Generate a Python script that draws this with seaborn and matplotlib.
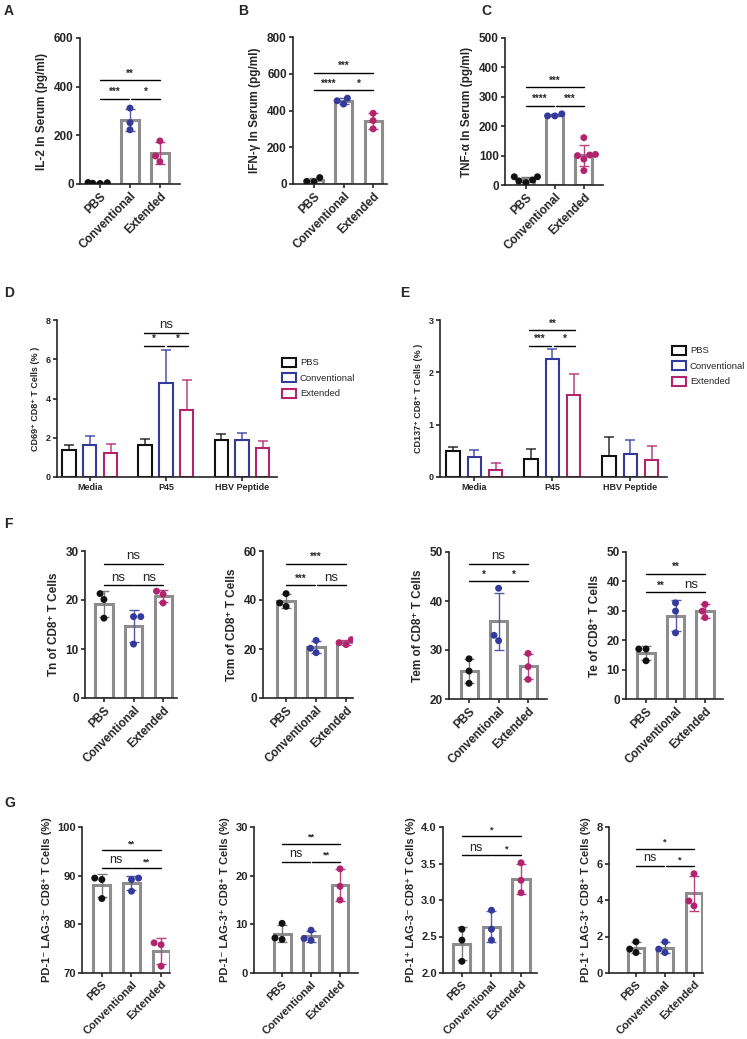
import numpy as np
import pandas as pd
import matplotlib
matplotlib.use('Agg')
import matplotlib.pyplot as plt
from matplotlib.patches import Patch
import seaborn as sns

sns.set_style('ticks')
plt.rcParams['font.family'] = ['Liberation Sans', 'DejaVu Sans']
plt.rcParams['axes.linewidth'] = 1.2

W, H = 747, 1039
groups = ['PBS', 'Conventional', 'Extended']
dot_colors = ['#111111', '#343a9c', '#b3246f']
err_colors = ['#7a7a7a', '#555aa6', '#b8437f']
bar_edge = '#8d8d8d'

# A-C: cytokines in serum (individual mice)
il2 = {'PBS': [2, 5, 3, 6], 'Conventional': [312, 252, 223], 'Extended': [177, 115, 92]}
ifng = {'PBS': [12, 35, 14], 'Conventional': [467, 435, 453], 'Extended': [385, 345, 300]}
tnfa = {'PBS': [14, 28, 28, 8, 17], 'Conventional': [235, 242, 235],
        'Extended': [161, 104, 102, 100, 88, 49]}

# D-E: activation markers after restimulation (mean, SD)
stims = ['Media', 'P45', 'HBV Peptide']
cd69_mean = {'PBS': [1.40, 1.62, 1.89], 'Conventional': [1.65, 4.80, 1.87], 'Extended': [1.24, 3.39, 1.50]}
cd69_sd = {'PBS': [0.25, 0.32, 0.32], 'Conventional': [0.44, 1.69, 0.39], 'Extended': [0.46, 1.56, 0.34]}
cd137_mean = {'PBS': [0.49, 0.34, 0.40], 'Conventional': [0.39, 2.25, 0.44], 'Extended': [0.13, 1.57, 0.33]}
cd137_sd = {'PBS': [0.08, 0.20, 0.37], 'Conventional': [0.13, 0.19, 0.27], 'Extended': [0.14, 0.39, 0.26]}

# F: memory subsets
tn = {'PBS': [21.3, 20.1, 16.3], 'Conventional': [16.6, 16.6, 11.0], 'Extended': [21.8, 21.2, 19.4]}
tcm = {'PBS': [42.6, 37.4, 38.8], 'Conventional': [23.5, 18.5, 20.3], 'Extended': [23.8, 21.8, 22.6]}
tem = {'PBS': [28.2, 25.7, 23.2], 'Conventional': [42.6, 31.9, 33.0], 'Extended': [29.3, 26.6, 24.0]}
te = {'PBS': [17.0, 17.0, 13.0], 'Conventional': [32.7, 29.9, 22.5], 'Extended': [32.2, 29.9, 27.7]}

# G: PD-1 / LAG-3 subsets
pd1n_lag3n = {'PBS': [89.5, 89.2, 85.3], 'Conventional': [89.5, 89.2, 86.8], 'Extended': [76.2, 75.8, 71.4]}
pd1n_lag3p = {'PBS': [10.2, 6.9, 7.2], 'Conventional': [8.8, 6.7, 7.1], 'Extended': [21.4, 17.8, 15.0]}
pd1p_lag3n = {'PBS': [2.60, 2.45, 2.16], 'Conventional': [2.86, 2.60, 2.45], 'Extended': [3.51, 3.27, 3.10]}
pd1p_lag3p = {'PBS': [1.31, 1.71, 1.12], 'Conventional': [1.12, 1.71, 1.31], 'Extended': [5.44, 3.68, 3.95]}

fig = plt.figure(figsize=(W / 100, H / 100), dpi=100)


def px(l, t, r, b):
    return [l / W, 1 - b / H, (r - l) / W, (b - t) / H]


def sig_text(ax, x, y, txt, fs, ns_fs):
    if txt == 'ns':
        ax.text(x, y, txt, ha='center', va='bottom', fontsize=ns_fs)
    else:
        ax.text(x, y, txt, ha='center', va='bottom', fontsize=fs, fontweight='bold')


def dot_panel(rect, vals, ylim, yticks, ylabel, xlim, sigs, fs=8.5):
    ax = fig.add_axes(px(*rect))
    df = pd.DataFrame([(g, v) for g in groups for v in vals[g]], columns=['group', 'value'])
    sns.barplot(data=df, x='group', y='value', order=groups, errorbar=None, color='white',
                edgecolor=bar_edge, linewidth=2.2, width=0.58, ax=ax, zorder=1)
    stats = df.groupby('group')['value'].agg(['mean', 'std']).reindex(groups)
    for i, g in enumerate(groups):
        ax.errorbar(i, stats.loc[g, 'mean'], yerr=stats.loc[g, 'std'], color=err_colors[i],
                    capsize=3.5, lw=1, capthick=1, zorder=2)
    sns.swarmplot(data=df, x='group', y='value', order=groups, hue='group', hue_order=groups,
                  palette=dot_colors, size=5, legend=False, ax=ax, zorder=3)
    ax.set_ylim(*ylim)
    ax.set_yticks(yticks)
    ax.set_xlim(*xlim)
    ax.set_xticks(range(3))
    ax.set_xticklabels(groups, rotation=45, ha='right', rotation_mode='anchor',
                       fontweight='bold', fontsize=fs)
    ax.set_yticklabels([f'{t:g}' if isinstance(t, int) else f'{t:.1f}' for t in yticks],
                       fontweight='bold', fontsize=fs)
    ax.set_xlabel('')
    ax.set_ylabel(ylabel, fontweight='bold', fontsize=fs, labelpad=4)
    ax.tick_params(direction='out', length=3, width=1.2, pad=1.5)
    sns.despine(ax=ax)
    for i, j, y, txt in sigs:
        x1 = i + (0.03 if i == 1 else 0)
        x2 = j - (0.03 if j == 1 else 0)
        ax.plot([x1, x2], [y, y], color='black', lw=1, clip_on=False)
        sig_text(ax, (x1 + x2) / 2, y + (ylim[1] - ylim[0]) * 0.012, txt, fs - 1.5, fs + 1)
    return ax


def group_panel(rect, means, sds, ylim, yticks, ylabel, xlim, sigs, legend_xy):
    ax = fig.add_axes(px(*rect))
    df = pd.DataFrame([(s, g, m) for g in groups for s, m in zip(stims, means[g])],
                      columns=['stim', 'group', 'value'])
    sns.barplot(data=df, x='stim', y='value', hue='group', order=stims, hue_order=groups,
                palette=dot_colors, fill=False, width=0.82, gap=0.36, linewidth=1.5,
                errorbar=None, legend=False, ax=ax)
    centers = {}
    for cont, g, c in zip(ax.containers, groups, dot_colors):
        xs = [b.get_x() + b.get_width() / 2 for b in cont]
        ys = [b.get_height() for b in cont]
        centers[g] = xs
        ax.errorbar(xs, ys, yerr=[np.zeros(len(xs)), sds[g]], fmt='none', ecolor=c,
                    capsize=3.5, lw=1.2, capthick=1.2, alpha=0.8)
    ax.set_ylim(*ylim)
    ax.set_yticks(yticks)
    ax.set_xlim(*xlim)
    ax.set_xticks(range(3))
    ax.set_xticklabels(stims, fontweight='bold', fontsize=6.5)
    ax.set_yticklabels([str(t) for t in yticks], fontweight='bold', fontsize=6.5)
    ax.set_xlabel('')
    ax.set_ylabel(ylabel, fontweight='bold', fontsize=6.5, labelpad=4)
    ax.tick_params(direction='out', length=3, width=1.2, pad=1.5)
    sns.despine(ax=ax)
    for i, j, y, txt in sigs:
        x1 = centers[groups[i]][1] + (0.02 if i == 1 else -0.02)
        x2 = centers[groups[j]][1] - (0.02 if j == 1 else -0.02)
        ax.plot([x1, x2], [y, y], color='black', lw=1, clip_on=False)
        sig_text(ax, (x1 + x2) / 2, y + (ylim[1] - ylim[0]) * 0.012, txt, 7, 9.5)
    handles = [Patch(facecolor='none', edgecolor=c, lw=1.5) for c in dot_colors]
    ax.legend(handles, groups, loc='center left', frameon=False, fontsize=6.8,
              bbox_to_anchor=(legend_xy[0] / W, 1 - legend_xy[1] / H),
              bbox_transform=fig.transFigure, handlelength=1.5, handleheight=1.1,
              labelspacing=0.6, handletextpad=0.4, borderaxespad=0, borderpad=0)
    return ax


# Row A-C
dot_panel((80, 38, 180, 184), il2, (0, 600), [0, 200, 400, 600], 'IL-2 In Serum (pg/ml)',
          (-0.67, 2.67), [(0, 2, 426, '**'), (0, 1, 349, '***'), (1, 2, 349, '*')])
dot_panel((293, 37, 387, 184), ifng, (0, 800), [0, 200, 400, 600, 800], 'IFN-γ In Serum (pg/ml)',
          (-0.71, 2.47), [(0, 2, 604, '***'), (0, 1, 509, '****'), (1, 2, 509, '*')])
dot_panel((505, 38, 603, 185), tnfa, (0, 500), [0, 100, 200, 300, 400, 500], 'TNF-α In Serum (pg/ml)',
          (-0.72, 2.66), [(0, 2, 332, '***'), (0, 1, 269, '****'), (1, 2, 269, '***')])

# Row D-E
group_panel((57, 320, 277, 477), cd69_mean, cd69_sd, (0, 8), [0, 2, 4, 6, 8],
            'CD69⁺ CD8⁺ T Cells (% )', (-0.43, 2.46),
            [(0, 2, 7.35, 'ns'), (0, 1, 6.69, '*'), (1, 2, 6.69, '*')], (282, 378))
group_panel((440, 320, 667, 477), cd137_mean, cd137_sd, (0, 3), [0, 1, 2, 3],
            'CD137⁺ CD8⁺ T Cells (% )', (-0.44, 2.47),
            [(0, 2, 2.80, '**'), (0, 1, 2.51, '***'), (1, 2, 2.51, '*')], (672, 366))

# Row F
dot_panel((85, 551, 177, 698), tn, (0, 30), [0, 10, 20, 30], 'Tn of CD8⁺ T Cells',
          (-0.64, 2.47), [(0, 2, 27.4, 'ns'), (0, 1, 23.0, 'ns'), (1, 2, 23.0, 'ns')])
dot_panel((263, 551, 353, 698), tcm, (0, 60), [0, 20, 40, 60], 'Tcm of CD8⁺ T Cells',
          (-0.77, 2.23), [(0, 2, 54.8, '***'), (0, 1, 46.0, '***'), (1, 2, 46.0, 'ns')])
dot_panel((449, 552, 547, 699), tem, (20, 50), [20, 30, 40, 50], 'Tem of CD8⁺ T Cells',
          (-0.68, 2.64), [(0, 2, 47.5, 'ns'), (0, 1, 44.0, '*'), (1, 2, 44.0, '*')])
dot_panel((626, 552, 723, 699), te, (0, 50), [0, 10, 20, 30, 40, 50], 'Te of CD8⁺ T Cells',
          (-0.68, 2.61), [(0, 2, 42.6, '**'), (0, 1, 36.3, '**'), (1, 2, 36.3, 'ns')])

# Row G
dot_panel((82, 827, 170, 973), pd1n_lag3n, (70, 100), [70, 80, 90, 100],
          'PD-1⁻ LAG-3⁻ CD8⁺ T Cells (%)', (-0.67, 2.3),
          [(0, 2, 95.2, '**'), (0, 1, 91.6, 'ns'), (1, 2, 91.6, '**')], fs=8)
dot_panel((254, 827, 358, 973), pd1n_lag3p, (0, 30), [0, 10, 20, 30],
          'PD-1⁻ LAG-3⁺ CD8⁺ T Cells (%)', (-0.97, 2.62),
          [(0, 2, 26.6, '**'), (0, 1, 22.9, 'ns'), (1, 2, 22.9, '**')], fs=8)
dot_panel((443, 827, 537, 973), pd1p_lag3n, (2.0, 4.0), [2.0, 2.5, 3.0, 3.5, 4.0],
          'PD-1⁺ LAG-3⁻ CD8⁺ T Cells (%)', (-0.64, 2.54),
          [(0, 2, 3.87, '*'), (0, 1, 3.61, 'ns'), (1, 2, 3.61, '*')], fs=8)
dot_panel((609, 827, 703, 973), pd1p_lag3p, (0, 8), [0, 2, 4, 6, 8],
          'PD-1⁺ LAG-3⁺ CD8⁺ T Cells (%)', (-0.93, 2.31),
          [(0, 2, 6.82, '*'), (0, 1, 5.85, 'ns'), (1, 2, 5.85, '*')], fs=8)

# panel letters
for letter, x, y in [('A', 4, 4), ('B', 238, 4), ('C', 481, 4), ('D', 4, 286),
                     ('E', 400, 286), ('F', 4, 517), ('G', 4, 796)]:
    fig.text(x / W, 1 - y / H, letter, ha='left', va='top', fontsize=10, fontweight='bold')

fig.savefig('out.png', dpi=100)
